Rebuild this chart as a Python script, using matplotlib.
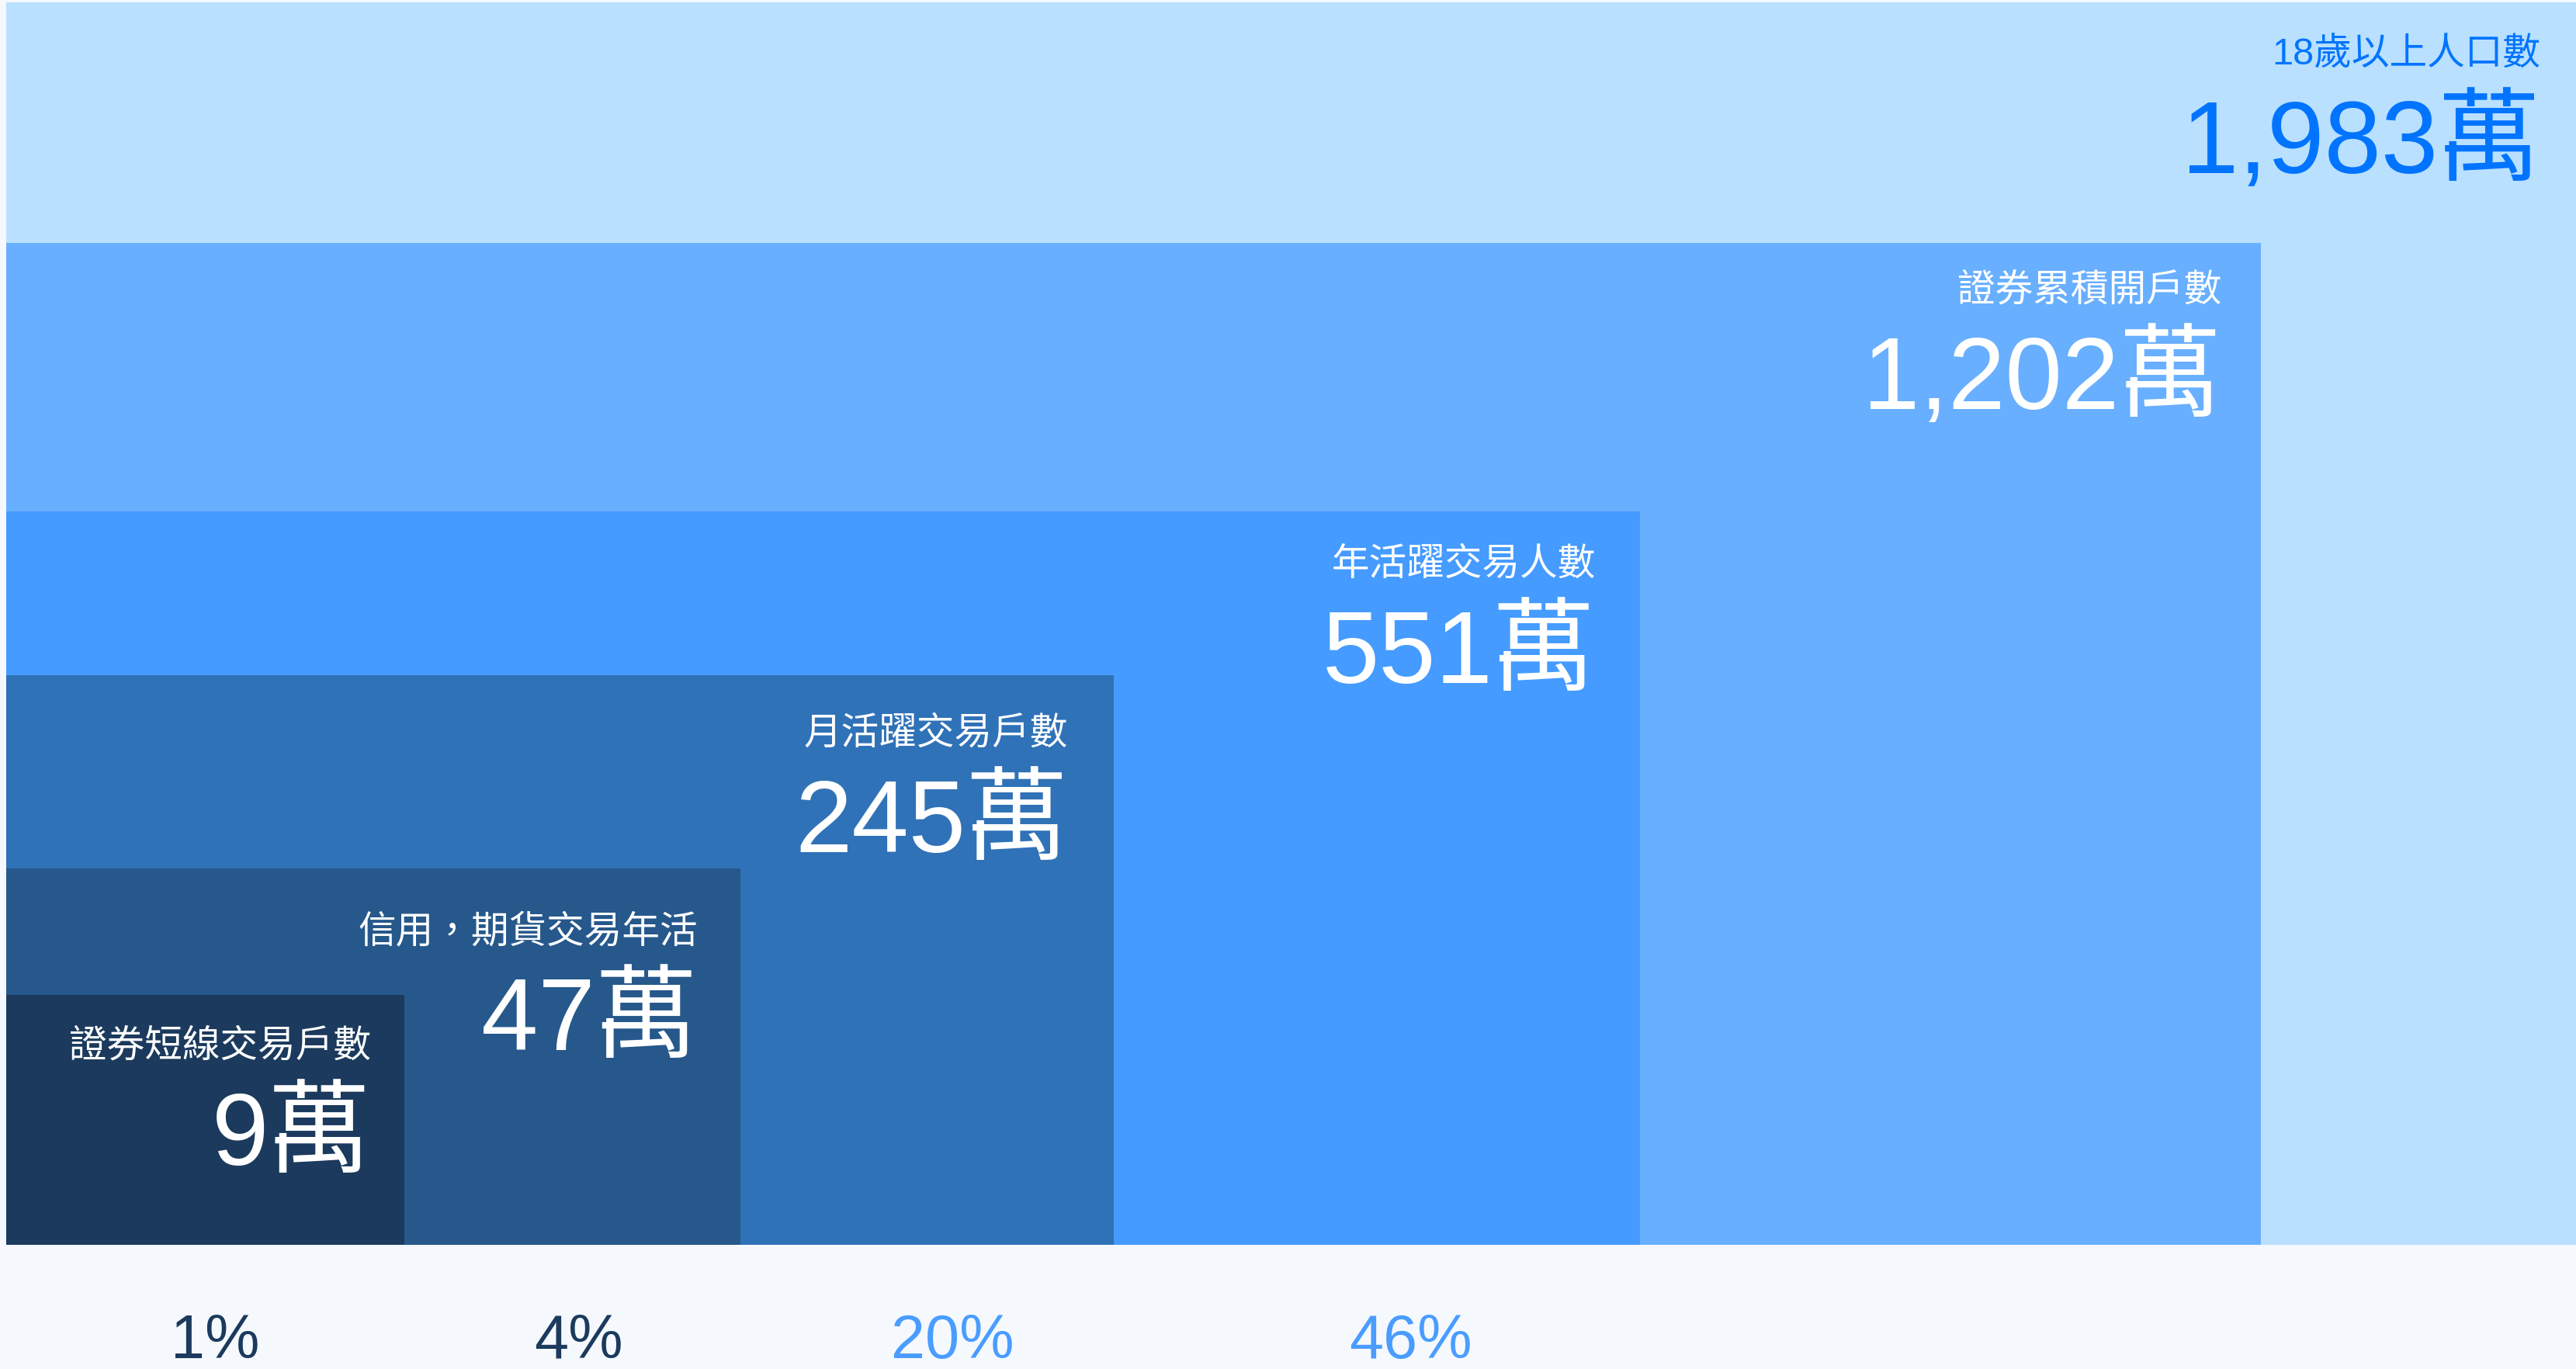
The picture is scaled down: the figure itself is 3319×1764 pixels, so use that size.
import matplotlib
matplotlib.use("Agg")
import matplotlib.pyplot as plt
from matplotlib.patches import Rectangle

# data
labels = ['18歲以上人口數', '證券累積開戶數', '年活躍交易人數',
          '月活躍交易戶數', '信用，期貨交易年活', '證券短線交易戶數']
values = [1983, 1202, 551, 245, 47, 9]
unit = '萬'
base_idx = 1  # percentages are shares of 證券累積開戶數

# layout (pixel space of a 3319x1764 canvas)
W, H = 3319, 1764
left, bottom = 8, 1604
box_right = [3319, 2913, 2113, 1435, 954, 521]
box_top = [3, 313, 659, 870, 1119, 1282]
num_base = [223, 527, 880, 1098, 1353, 1501]
text_pad = [46, 51, 57, 59, 55, 43]
pct_x = [277, 745, 1227, 1817]   # under the boxes, smallest first
pct_base = 1750

box_colors = ['#B9E0FF', '#68AFFF', '#459BFF', '#2F72B7', '#26588B', '#1B3A5D']
text_colors = ['#0074FF', 'white', 'white', 'white', 'white', 'white']
pct_colors = ['#1B3A5D', '#1B3A5D', '#4A9DFF', '#4A9DFF']
bg = '#F5F9FD'

fonts = ['Liberation Sans', 'Noto Sans CJK TC', 'DejaVu Sans']
plt.rcParams['font.family'] = fonts

fig = plt.figure(figsize=(W / 100, H / 100), dpi=100, facecolor=bg)
ax = fig.add_axes([0, 0, 1, 1])
ax.set_xlim(0, W)
ax.set_ylim(H, 0)
ax.axis('off')
ax.set_facecolor(bg)

for i in range(len(values)):
    ax.add_patch(Rectangle((left, box_top[i]), box_right[i] - left,
                           bottom - box_top[i], facecolor=box_colors[i],
                           edgecolor='none'))
    xr = box_right[i] - text_pad[i]
    ax.text(xr, num_base[i] - 139, labels[i], ha='right', va='baseline',
            fontsize=35, fontweight='light', color=text_colors[i])
    ax.text(xr, num_base[i], f'{values[i]:,}{unit}', ha='right',
            va='baseline', fontsize=95, color=text_colors[i])

# shares relative to accumulated accounts, smallest box first
small = values[base_idx + 1:][::-1]
for j, v in enumerate(small):
    pct = round(v / values[base_idx] * 100)
    ax.text(pct_x[j], pct_base, f'{pct}%', ha='center', va='baseline',
            fontsize=57, color=pct_colors[j])

fig.savefig('out.png', dpi=100, facecolor=bg)
